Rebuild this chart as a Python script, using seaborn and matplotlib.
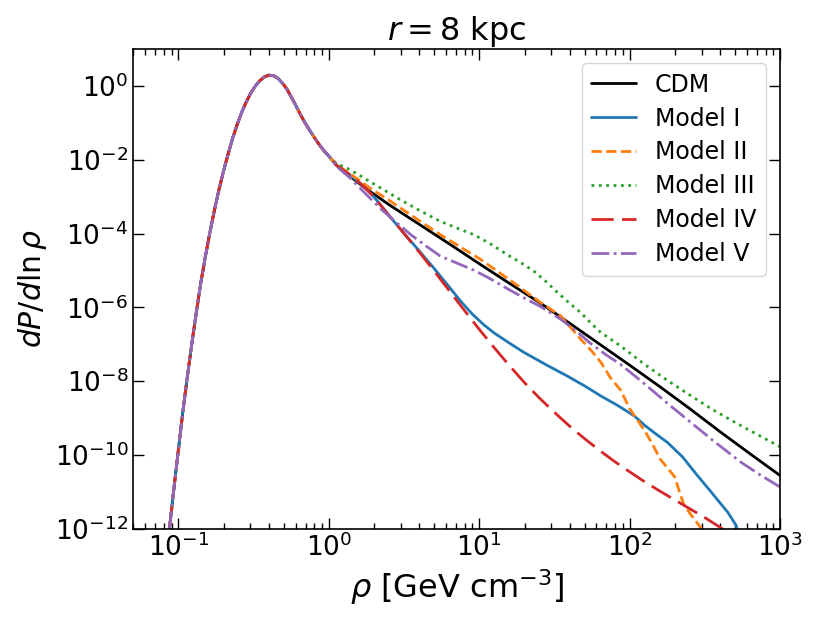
"""
Density PDF at r = 8 kpc: CDM vs. the five models, log-log.
Values are stored as log10 numbers read off the reference plot.
"""

import numpy as np
import pandas as pd
import matplotlib
matplotlib.use("Agg")
import matplotlib.pyplot as plt
import matplotlib.ticker as mticker
import seaborn as sns

# ── Data (log10 of rho [GeV/cm^3] and of dP/dln rho) ──────────────────
# shared low-density part, identical for every model
log_rho_core = [-1.06, -1.03, -1.00, -0.97, -0.94, -0.91, -0.88, -0.85,
                -0.82, -0.79, -0.76, -0.73, -0.70, -0.67, -0.64, -0.61,
                -0.58, -0.55, -0.52, -0.49, -0.46, -0.43, -0.40, -0.37,
                -0.34, -0.31, -0.28, -0.25, -0.22, -0.19, -0.16, -0.13,
                -0.10, -0.07, -0.04, -0.01, 0.02]
log_p_core = [-12.0, -10.9, -9.85, -8.8, -7.85, -6.95, -6.1, -5.3,
              -4.6, -3.95, -3.35, -2.8, -2.3, -1.85, -1.42, -1.05,
              -0.72, -0.44, -0.2, -0.01, 0.14, 0.24, 0.29, 0.28,
              0.21, 0.08, -0.08, -0.3, -0.53, -0.77, -0.99, -1.19,
              -1.38, -1.56, -1.72, -1.86, -2.0]

# high-density tails
log_rho_cdm = [0.05, 0.1, 0.15, 0.2, 0.273, 0.4, 0.6, 0.8, 1.0, 1.2, 1.4,
               1.6, 1.8, 2.0, 2.2, 2.4, 2.6, 2.8, 3.0]
log_p_cdm = [-2.15, -2.32, -2.48, -2.64, -2.86, -3.22, -3.75, -4.28, -4.82,
             -5.35, -5.87, -6.43, -7.0, -7.57, -8.15, -8.75, -9.37, -9.97,
             -10.56]

log_rho_m1 = [0.05, 0.14, 0.22, 0.296, 0.407, 0.5, 0.6, 0.7, 0.8, 0.873,
              0.95, 1.029, 1.1, 1.2, 1.296, 1.45, 1.584, 1.7, 1.807, 1.92,
              2.029, 2.1, 2.18, 2.25, 2.35, 2.45, 2.54, 2.6, 2.651, 2.707,
              2.73]
log_p_m1 = [-2.15, -2.41, -2.68, -2.99, -3.55, -4.0, -4.47, -4.95, -5.45,
            -5.82, -6.17, -6.47, -6.7, -6.97, -7.22, -7.57, -7.86, -8.13,
            -8.4, -8.66, -8.94, -9.2, -9.45, -9.66, -10.05, -10.56, -11.0,
            -11.3, -11.55, -11.91, -12.3]

log_rho_m2 = [0.05, 0.1, 0.2, 0.273, 0.4, 0.6, 0.74, 0.9, 1.0, 1.2, 1.4,
              1.54, 1.673, 1.75, 1.81, 1.87, 1.94, 2.0, 2.05, 2.1, 2.15,
              2.2, 2.25, 2.3, 2.33, 2.36, 2.41, 2.47, 2.52]
log_p_m2 = [-2.12, -2.27, -2.55, -2.77, -3.1, -3.65, -4.03, -4.43, -4.68,
            -5.25, -5.85, -6.23, -6.86, -7.2, -7.5, -7.9, -8.25, -8.75,
            -9.05, -9.35, -9.7, -10.1, -10.35, -10.6, -11.0, -11.35,
            -11.64, -11.96, -12.3]

log_rho_m3 = [0.05, 0.14, 0.3, 0.473, 0.6, 0.74, 0.85, 0.962, 1.07, 1.184,
              1.28, 1.362, 1.43, 1.496, 1.58, 1.673, 1.74, 1.807, 1.94, 2.1,
              2.25, 2.4, 2.55, 2.718, 2.85, 3.0]
log_p_m3 = [-2.1, -2.27, -2.66, -3.08, -3.37, -3.67, -3.85, -4.03, -4.27,
            -4.57, -4.8, -5.02, -5.25, -5.51, -5.82, -6.14, -6.42, -6.68,
            -7.05, -7.55, -7.98, -8.38, -8.77, -9.16, -9.45, -9.78]

log_rho_m4 = [0.05, 0.14, 0.22, 0.296, 0.407, 0.5, 0.6, 0.7, 0.8, 0.9, 1.0,
              1.1, 1.2, 1.3, 1.4, 1.5, 1.6, 1.7, 1.8, 1.9, 2.0, 2.1, 2.2,
              2.3, 2.4, 2.5, 2.6, 2.65]
log_p_m4 = [-2.15, -2.41, -2.68, -2.99, -3.55, -4.0, -4.5, -5.02, -5.55,
            -6.08, -6.6, -7.1, -7.58, -8.04, -8.46, -8.85, -9.22, -9.56,
            -9.88, -10.18, -10.46, -10.73, -10.98, -11.22, -11.46, -11.7,
            -11.96, -12.1]

log_rho_m5 = [0.05, 0.14, 0.251, 0.35, 0.451, 0.55, 0.65, 0.74, 0.85, 0.962,
              1.07, 1.184, 1.3, 1.407, 1.54, 1.64, 1.74, 1.84, 1.94, 2.1,
              2.25, 2.4, 2.55, 2.74, 2.87, 3.0]
log_p_m5 = [-2.18, -2.49, -2.95, -3.35, -3.71, -4.05, -4.35, -4.61, -4.8,
            -4.99, -5.22, -5.49, -5.75, -5.98, -6.32, -6.63, -6.98, -7.28,
            -7.55, -8.08, -8.6, -9.1, -9.6, -10.2, -10.55, -10.87]

labels = ["CDM", "Model I", "Model II", "Model III", "Model IV", "Model V"]
tails = [(log_rho_cdm, log_p_cdm), (log_rho_m1, log_p_m1),
         (log_rho_m2, log_p_m2), (log_rho_m3, log_p_m3),
         (log_rho_m4, log_p_m4), (log_rho_m5, log_p_m5)]

# ── Style ─────────────────────────────────────────────────────────────
sns.set_style("ticks", {
    "xtick.direction": "in",
    "ytick.direction": "in",
    "axes.edgecolor": "black",
    "text.color": "black",
    "axes.labelcolor": "black",
    "xtick.color": "black",
    "ytick.color": "black",
})
plt.rcParams["font.family"] = ["DejaVu Sans"]
plt.rcParams["mathtext.fontset"] = "dejavusans"

colors = ["black", "#1f77b4", "#ff7f0e", "#2ca02c", "#d62728", "#9467bd"]
styles = ["-", "-", "--", ":", (0, (8, 3)), "-."]

fig = plt.figure(figsize=(8.17, 6.28), dpi=100)
ax = fig.add_axes([0.163, 0.158, 0.792, 0.764])

for lab, (lx, ly), col, ls in zip(labels, tails, colors, styles):
    df = pd.DataFrame({"rho": 10.0 ** np.array(log_rho_core + lx),
                       "p": 10.0 ** np.array(log_p_core + ly)})
    sns.lineplot(data=df, x="rho", y="p", ax=ax, color=col, linestyle=ls,
                 lw=2.0, label=lab, sort=False, estimator=None)

ax.set_xscale("log")
ax.set_yscale("log")
ax.set_xlim(0.05, 1000)
ax.set_ylim(1e-12, 10)

ax.yaxis.set_major_locator(mticker.FixedLocator([10.0 ** k for k in range(0, -13, -2)]))
ax.yaxis.set_minor_locator(mticker.NullLocator())
ax.xaxis.set_major_locator(mticker.LogLocator(base=10, numticks=20))
ax.xaxis.set_minor_locator(mticker.LogLocator(base=10, subs=np.arange(2, 10), numticks=20))

ax.tick_params(which="both", top=True, right=True, direction="in",
               labelsize=19, width=1.0)
ax.tick_params(which="major", length=8)
ax.tick_params(which="minor", length=4)
for sp in ax.spines.values():
    sp.set_linewidth(1.2)

ax.set_xlabel(r"$\rho$ [GeV cm$^{-3}$]", fontsize=23)
ax.set_ylabel(r"$dP/d\ln\rho$", fontsize=21.5)
ax.set_title(r"$r = 8$ kpc", fontsize=23)

ax.legend(loc="upper right", fontsize=17, handlelength=1.9,
          labelspacing=0.42, borderaxespad=0.6)

fig.savefig("out.png", dpi=100)
